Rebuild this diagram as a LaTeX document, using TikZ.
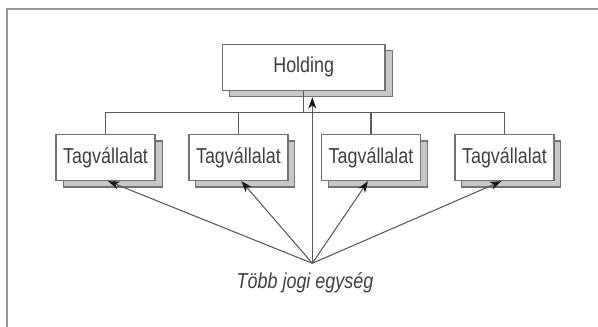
\documentclass[tikz,border=0pt]{standalone}
\usepackage{fontspec}
\setmainfont{Liberation Sans}[FakeStretch=0.83]
\usetikzlibrary{arrows.meta}
\begin{document}
\begin{tikzpicture}[x=0.75pt, y=-0.75pt, font=\fontsize{16.2}{19}\selectfont,
  box/.style={draw=box edge, fill=white, line width=1pt, inner sep=0pt, minimum height=34.5pt, text=label text},
  shadowbox/.style={draw=box edge, fill=shadow area, line width=0.8pt, inner sep=0pt, minimum height=34.5pt},
  wire/.style={draw=wire line, line width=0.8pt},
  arrow/.style={wire, -{Stealth[length=8.5pt, width=6pt, inset=2.5pt, color=arrow tip]}}]
\definecolor{box edge}{gray}{0.45}
\definecolor{shadow area}{gray}{0.78}
\definecolor{wire line}{gray}{0.35}
\definecolor{arrow tip}{gray}{0.1}
\definecolor{label text}{gray}{0.25}
\definecolor{frame line}{gray}{0.6}

\useasboundingbox (0,0) rectangle (598,327);
\draw[frame line, line width=1.5pt] (7,327) -- (7,9) -- (598,9);

\node[shadowbox, minimum width=122pt] (hs) at (310.7,73.7) {};
\node[box, minimum width=122pt] (h) at (303.7,67.2) {Holding};

\foreach \x/\name in {105.6/t1,238.4/t2,371/t3,504.4/t4}{
  \node[shadowbox, minimum width=74.3pt] (\name s) at (\x+7,164) {};
  \node[box, minimum width=74.3pt] (\name) at (\x,157.5) {Tagvállalat};
}

\coordinate (bus) at (303.7,112.3);
\draw[wire] (h.south) -- (bus);
\draw[wire] (t1.north |- bus) -- (t4.north |- bus);
\foreach \name in {t1,t2,t3,t4}
\draw[wire] (\name.north |- bus) -- (\name.north);

\coordinate (src) at (312.3,263.3);
\node[text=label text] (jogi) at (305,282.7) {\itshape Több jogi egység};
\draw[arrow] (src) -- (hs.south -| src);
\foreach \name/\dx in {t1/2.5,t2/3,t3/-3,t4/-3}
\draw[arrow] (src) -- ([xshift=\dx*0.75pt]\name.south);
\end{tikzpicture}
\end{document}
